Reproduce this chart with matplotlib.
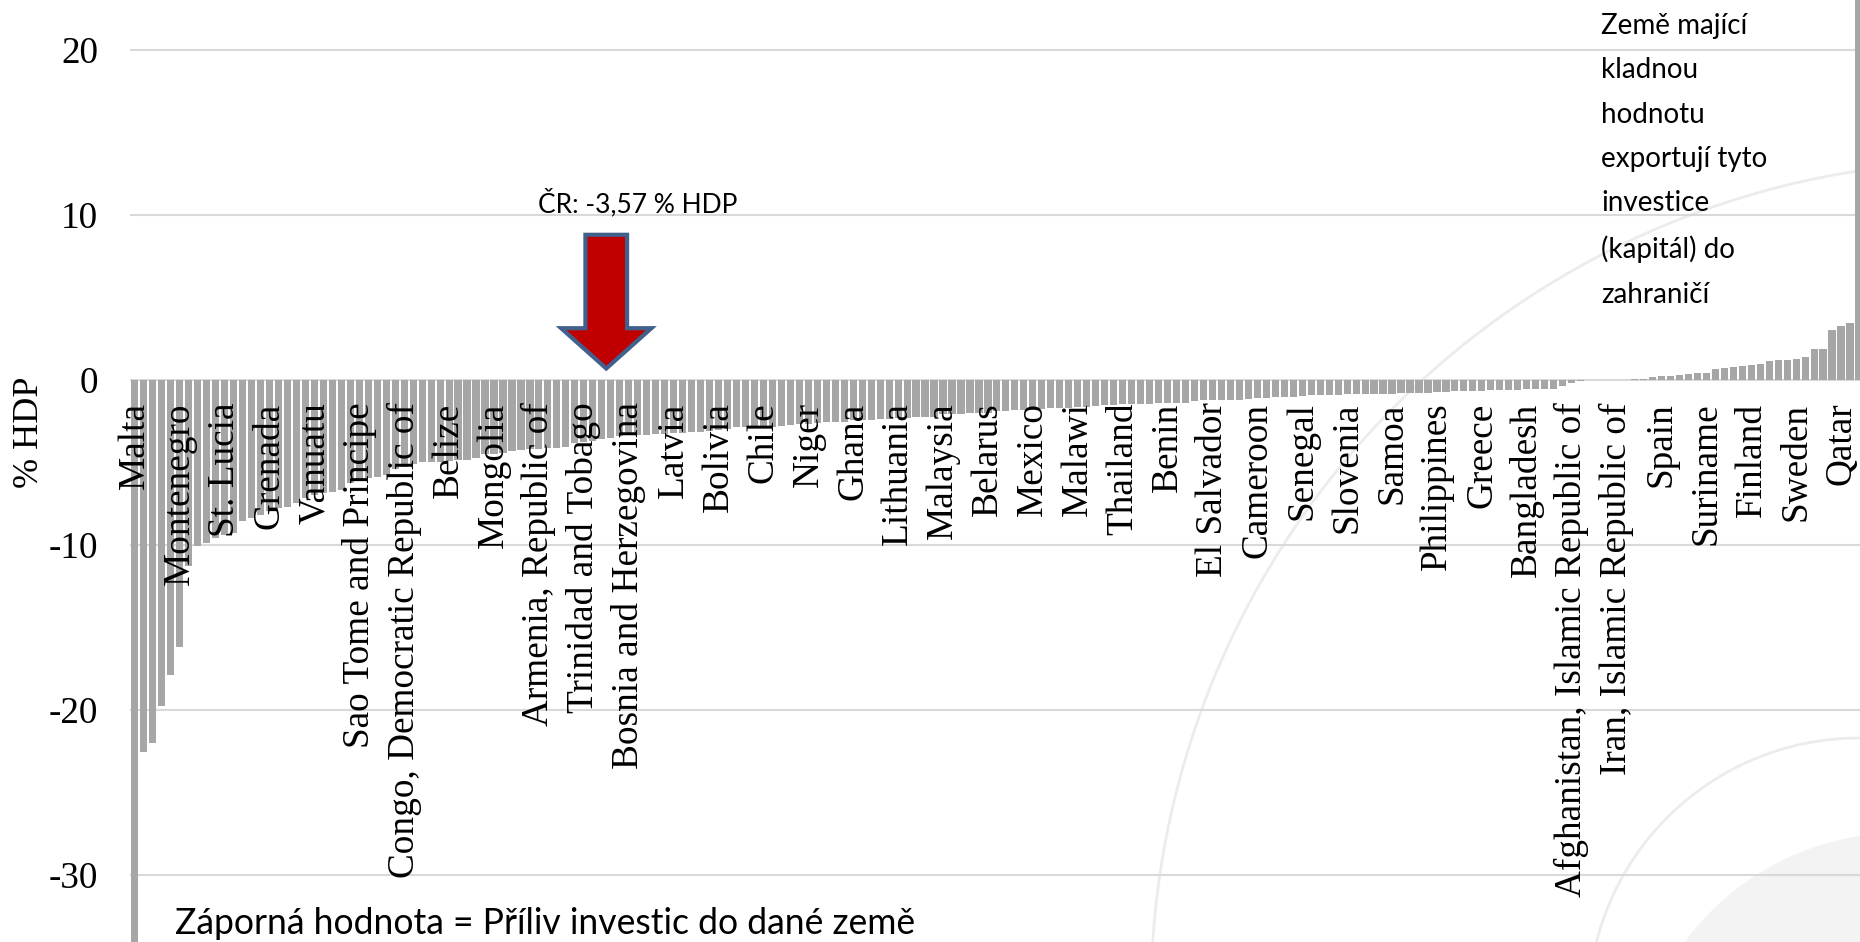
import matplotlib
matplotlib.use("Agg")
import matplotlib.pyplot as plt
import numpy as np
from matplotlib.patches import FancyArrowPatch, ArrowStyle, Circle

# Net FDI balance by country, % of GDP, sorted ascending
values = [
    -38.0, -22.6, -22.0, -19.8, -17.9, -16.2, -11.3, -10.1, -9.9, -9.6,
    -9.4, -9.3, -8.6, -8.4, -8.2, -7.95, -7.8, -7.7, -7.5, -7.2,
    -7.0, -6.9, -6.8, -6.7, -6.3, -6.0, -5.95, -5.9, -5.8, -5.45,
    -5.3, -5.1, -5.0, -5.0, -5.0, -4.95, -4.9, -4.86, -4.74, -4.5,
    -4.5, -4.45, -4.35, -4.3, -4.2, -4.2, -4.18, -4.15, -4.1, -3.85,
    -3.8, -3.75, -3.6, -3.57, -3.4, -3.38, -3.36, -3.35, -3.3, -3.28,
    -3.27, -3.25, -3.2, -3.18, -3.15, -3.05, -3.0, -2.9, -2.88, -2.87,
    -2.86, -2.85, -2.84, -2.75, -2.68, -2.67, -2.65, -2.57, -2.56, -2.55,
    -2.48, -2.47, -2.46, -2.38, -2.37, -2.36, -2.35, -2.28, -2.27, -2.26,
    -2.12, -2.1, -2.08, -2.03, -2.02, -2.0, -1.92, -1.9, -1.83, -1.82,
    -1.81, -1.8, -1.71, -1.7, -1.7, -1.69, -1.68, -1.58, -1.56, -1.55,
    -1.48, -1.47, -1.46, -1.46, -1.45, -1.44, -1.43, -1.42, -1.28, -1.27,
    -1.26, -1.25, -1.24, -1.22, -1.16, -1.15, -1.13, -1.06, -1.05, -1.04,
    -0.97, -0.95, -0.95, -0.94, -0.93, -0.9, -0.89, -0.88, -0.87, -0.86,
    -0.85, -0.84, -0.83, -0.8, -0.79, -0.78, -0.77, -0.72, -0.71, -0.7,
    -0.69, -0.66, -0.65, -0.64, -0.63, -0.58, -0.57, -0.56, -0.55, -0.4,
    -0.2, -0.1, -0.05, -0.03, -0.02, -0.01, 0.0, 0.02, 0.06, 0.16,
    0.22, 0.24, 0.26, 0.32, 0.38, 0.38, 0.61, 0.71, 0.73, 0.79,
    0.87, 0.93, 1.11, 1.19, 1.19, 1.26, 1.34, 1.84, 1.84, 3.0,
    3.26, 3.42, 30.0,
]

# every fifth country carries a category label
label_step = 5
country_labels = [
    "Malta", "Montenegro", "St. Lucia", "Grenada", "Vanuatu",
    "Sao Tome and Principe", "Congo, Democratic Republic of", "Belize",
    "Mongolia", "Armenia, Republic of", "Trinidad and Tobago",
    "Bosnia and Herzegovina", "Latvia", "Bolivia", "Chile", "Niger", "Ghana",
    "Lithuania", "Malaysia", "Belarus", "Mexico", "Malawi", "Thailand",
    "Benin", "El Salvador", "Cameroon", "Senegal", "Slovenia", "Samoa",
    "Philippines", "Greece", "Bangladesh", "Afghanistan, Islamic Republic of",
    "Iran, Islamic Republic of", "Spain", "Suriname", "Finland", "Sweden",
    "Qatar",
]

y_ticks = [-30, -20, -10, 0, 10, 20]
cr_index = 53
cr_value = -3.57

W, H = 1860, 942
plt.rcParams["axes.unicode_minus"] = False
serif = "Liberation Serif"
sans = "Lato"

fig = plt.figure(figsize=(W / 100, H / 100), dpi=100)
fig.patch.set_facecolor("white")

# faint slide ornaments behind the chart (pixel space)
bg = fig.add_axes([0, 0, 1, 1], zorder=0)
bg.set_xlim(0, W)
bg.set_ylim(H, 0)
bg.axis("off")
bg.add_patch(Circle((1900, 1100), 267, fc="#f3f3f3", ec="none"))
bg.add_patch(Circle((1986, 996), 835, fc="none", ec="#ececec", lw=2))
bg.add_patch(Circle((1859, 1009), 271, fc="none", ec="#ececec", lw=2))

n = len(values)
x = np.arange(n)
left_px, plot_w_px = 130.3, 1733.2
ax = fig.add_axes([left_px / W, 0, plot_w_px / W, 1], zorder=1)
ax.set_facecolor("none")

for t in y_ticks:
    ax.axhline(t, color="#d9d9d9", lw=1.5, zorder=0.5)

ax.bar(x, values, width=0.8, color="#a6a6a6", zorder=1)

ax.set_xlim(-0.5, n - 0.5)
ax.set_ylim(-34.09, 23.0)

for s in ax.spines.values():
    s.set_visible(False)
ax.spines["bottom"].set_position(("data", 0))

ax.set_xticks(x[::label_step][: len(country_labels)])
ax.set_xticklabels(country_labels, rotation=90, fontfamily=serif, fontsize=26.8)
ax.set_yticks(y_ticks)
ax.set_yticklabels([str(t) for t in y_ticks], fontfamily=serif, fontsize=26.8)
ax.tick_params(axis="x", length=0, pad=16.5)
ax.tick_params(axis="y", length=0, pad=23)

fig.text(29.7 / W, 1 - 432 / H, "% HDP", rotation=90, ha="center", va="center",
         fontfamily=serif, fontsize=26)

# Czech Republic marker
arrow = FancyArrowPatch(
    (cr_index - 0.5, 8.94), (cr_index - 0.5, 0.5),
    arrowstyle=ArrowStyle.Simple(head_length=29, head_width=65, tail_width=30),
    mutation_scale=1, fc="#c00000", ec="#41608c", lw=3, joinstyle="miter",
    zorder=5,
)
ax.add_patch(arrow)
cr_text = "ČR: " + f"{cr_value:.2f}".replace(".", ",") + " % HDP"
ax.text(cr_index + 3, 10.7, cr_text, ha="center", va="center",
        fontfamily=sans, fontsize=19, zorder=6)

fig.text(175 / W, 1 - 923 / H, "Záporná hodnota = Příliv investic do dané země",
         ha="left", va="center", fontfamily=sans, fontsize=25.6, zorder=6)

fig.text(1601 / W, 1 - 13 / H,
         "Země mající\nkladnou\nhodnotu\nexportují tyto\ninvestice\n(kapitál) do\nzahraničí",
         ha="left", va="top", fontfamily=sans, fontsize=20, linespacing=1.87, zorder=6)

fig.savefig("out.png", dpi=100, facecolor="white")
